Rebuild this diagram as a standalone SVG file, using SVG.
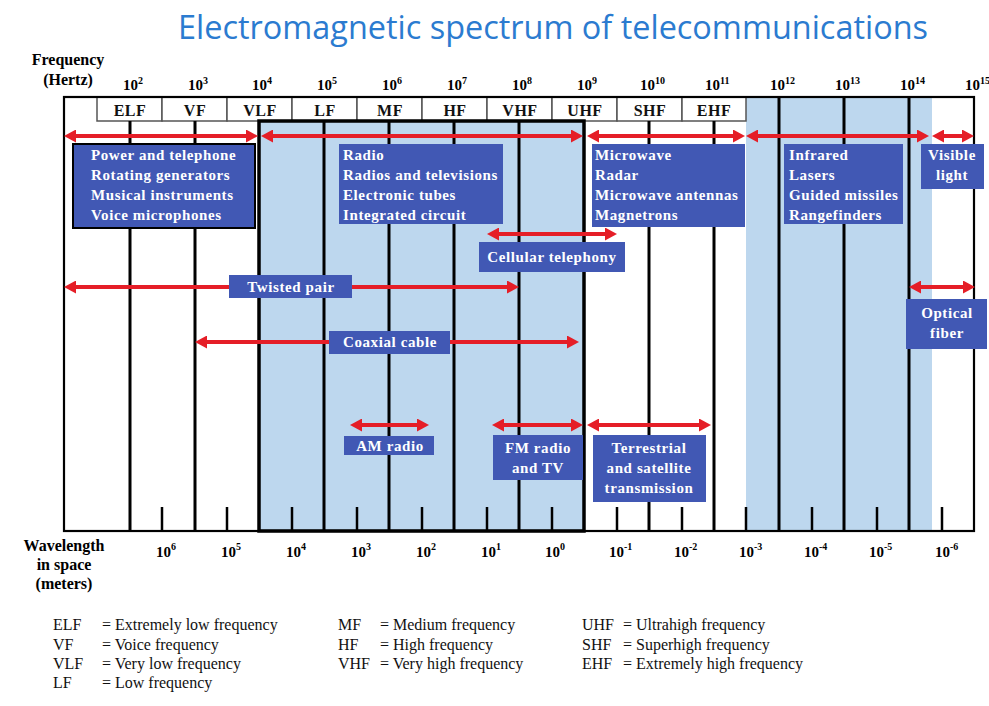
<svg xmlns="http://www.w3.org/2000/svg" width="989" height="706" viewBox="0 0 989 706">
<defs>
<marker id="ah" viewBox="0 0 12 13" refX="4" refY="6.5" markerWidth="12" markerHeight="13" markerUnits="userSpaceOnUse" orient="auto-start-reverse">
<path d="M0,0 L12,6.5 L0,13 z" fill="#E51E27"/>
</marker>
<style>
.title{font-family:"Open Sans","Liberation Sans",sans-serif;font-size:33px;fill:#2B7BD0}
.hd{font-family:"Liberation Serif",serif;font-weight:bold;font-size:16px;fill:#000}
.num{font-family:"Liberation Serif",serif;font-weight:bold;font-size:15px;fill:#000}
.band{font-family:"Liberation Serif",serif;font-weight:bold;font-size:16px;fill:#111;text-anchor:middle;letter-spacing:0.5px}
.bbox{fill:#fff;stroke:#555;stroke-width:1.5}
.vl{stroke:#000;stroke-width:3}
.tk{stroke:#000;stroke-width:2.5}
.arr{stroke:#E51E27;stroke-width:4;fill:none;marker-start:url(#ah);marker-end:url(#ah)}
.lb{fill:#4158B4}
.lt{font-family:"Liberation Serif",serif;font-weight:bold;font-size:15px;fill:#fff;letter-spacing:0.6px}
.ltc{font-family:"Liberation Serif",serif;font-weight:bold;font-size:15px;fill:#fff;letter-spacing:0.6px;text-anchor:middle}
.lg{font-family:"Liberation Serif",serif;font-size:16px;fill:#111}
</style>
</defs>
<rect width="989" height="706" fill="#fff"/>
<text class="title" x="178" y="39" textLength="750" lengthAdjust="spacingAndGlyphs">Electromagnetic spectrum of telecommunications</text>

<g id="axis-labels">
<text class="hd" x="68" y="65" text-anchor="middle">Frequency</text>
<text class="hd" x="68" y="85" text-anchor="middle">(Hertz)</text>
<text class="hd" x="64" y="551" text-anchor="middle">Wavelength</text>
<text class="hd" x="64" y="570" text-anchor="middle">in space</text>
<text class="hd" x="64" y="589" text-anchor="middle">(meters)</text>
</g>

<g id="frequency-scale">
<text class="num" x="123" y="90">10<tspan font-size="10" dy="-6">2</tspan></text>
<text class="num" x="188" y="90">10<tspan font-size="10" dy="-6">3</tspan></text>
<text class="num" x="252" y="90">10<tspan font-size="10" dy="-6">4</tspan></text>
<text class="num" x="317" y="90">10<tspan font-size="10" dy="-6">5</tspan></text>
<text class="num" x="382" y="90">10<tspan font-size="10" dy="-6">6</tspan></text>
<text class="num" x="447" y="90">10<tspan font-size="10" dy="-6">7</tspan></text>
<text class="num" x="512" y="90">10<tspan font-size="10" dy="-6">8</tspan></text>
<text class="num" x="577" y="90">10<tspan font-size="10" dy="-6">9</tspan></text>
<text class="num" x="640" y="90">10<tspan font-size="10" dy="-6">10</tspan></text>
<text class="num" x="705" y="90">10<tspan font-size="10" dy="-6">11</tspan></text>
<text class="num" x="770" y="90">10<tspan font-size="10" dy="-6">12</tspan></text>
<text class="num" x="835" y="90">10<tspan font-size="10" dy="-6">13</tspan></text>
<text class="num" x="900" y="90">10<tspan font-size="10" dy="-6">14</tspan></text>
<text class="num" x="965" y="90">10<tspan font-size="10" dy="-6">15</tspan></text>
</g>

<g id="shading">
<rect x="259" y="121" width="325" height="410" fill="#BDD7EE"/>
<rect x="746" y="97" width="186" height="434" fill="#BDD7EE"/>
</g>

<g id="bands">
<rect class="bbox" x="97" y="97" width="65" height="24"/>
<rect class="bbox" x="162" y="97" width="65" height="24"/>
<rect class="bbox" x="227" y="97" width="65" height="24"/>
<rect class="bbox" x="292" y="97" width="65" height="24"/>
<rect class="bbox" x="357" y="97" width="65" height="24"/>
<rect class="bbox" x="422" y="97" width="65" height="24"/>
<rect class="bbox" x="487" y="97" width="65" height="24"/>
<rect class="bbox" x="552" y="97" width="65" height="24"/>
<rect class="bbox" x="617" y="97" width="65" height="24"/>
<rect class="bbox" x="682" y="97" width="64" height="24"/>
<text class="band" x="130" y="116">ELF</text>
<text class="band" x="195" y="116">VF</text>
<text class="band" x="260" y="116">VLF</text>
<text class="band" x="325" y="116">LF</text>
<text class="band" x="390" y="116">MF</text>
<text class="band" x="455" y="116">HF</text>
<text class="band" x="520" y="116">VHF</text>
<text class="band" x="585" y="116">UHF</text>
<text class="band" x="650" y="116">SHF</text>
<text class="band" x="714" y="116">EHF</text>
</g>

<g id="grid">
<line class="vl" x1="130" y1="121" x2="130" y2="531"/>
<line class="vl" x1="195" y1="121" x2="195" y2="531"/>
<line class="vl" x1="324" y1="121" x2="324" y2="531"/>
<line class="vl" x1="389" y1="121" x2="389" y2="531"/>
<line class="vl" x1="454" y1="121" x2="454" y2="531"/>
<line class="vl" x1="519" y1="121" x2="519" y2="531"/>
<line class="vl" x1="649" y1="121" x2="649" y2="531"/>
<line class="vl" x1="714" y1="121" x2="714" y2="531"/>
<line class="vl" x1="779" y1="97" x2="779" y2="531"/>
<line class="vl" x1="844" y1="97" x2="844" y2="531"/>
<line class="vl" x1="909" y1="97" x2="909" y2="531"/>
<line class="tk" x1="162" y1="507" x2="162" y2="531"/>
<line class="tk" x1="227" y1="507" x2="227" y2="531"/>
<line class="tk" x1="292" y1="507" x2="292" y2="531"/>
<line class="tk" x1="357" y1="507" x2="357" y2="531"/>
<line class="tk" x1="422" y1="507" x2="422" y2="531"/>
<line class="tk" x1="487" y1="507" x2="487" y2="531"/>
<line class="tk" x1="552" y1="507" x2="552" y2="531"/>
<line class="tk" x1="617" y1="507" x2="617" y2="531"/>
<line class="tk" x1="682" y1="507" x2="682" y2="531"/>
<line class="tk" x1="746" y1="507" x2="746" y2="531"/>
<line class="tk" x1="812" y1="507" x2="812" y2="531"/>
<line class="tk" x1="877" y1="507" x2="877" y2="531"/>
<line class="tk" x1="942" y1="507" x2="942" y2="531"/>
<rect x="64" y="97" width="910" height="434" fill="none" stroke="#000" stroke-width="2.2"/>
<rect x="259" y="121" width="325" height="410" fill="none" stroke="#000" stroke-width="3.5"/>
</g>

<g id="wavelength-scale">
<text class="num" x="156" y="557">10<tspan font-size="10" dy="-7">6</tspan></text>
<text class="num" x="221" y="557">10<tspan font-size="10" dy="-7">5</tspan></text>
<text class="num" x="286" y="557">10<tspan font-size="10" dy="-7">4</tspan></text>
<text class="num" x="351" y="557">10<tspan font-size="10" dy="-7">3</tspan></text>
<text class="num" x="416" y="557">10<tspan font-size="10" dy="-7">2</tspan></text>
<text class="num" x="481" y="557">10<tspan font-size="10" dy="-7">1</tspan></text>
<text class="num" x="545" y="557">10<tspan font-size="10" dy="-7">0</tspan></text>
<text class="num" x="609" y="557">10<tspan font-size="10" dy="-7">-1</tspan></text>
<text class="num" x="674" y="557">10<tspan font-size="10" dy="-7">-2</tspan></text>
<text class="num" x="739" y="557">10<tspan font-size="10" dy="-7">-3</tspan></text>
<text class="num" x="804" y="557">10<tspan font-size="10" dy="-7">-4</tspan></text>
<text class="num" x="869" y="557">10<tspan font-size="10" dy="-7">-5</tspan></text>
<text class="num" x="935" y="557">10<tspan font-size="10" dy="-7">-6</tspan></text>
</g>

<g id="connectors">
<path class="arr" d="M72,136 H250"/>
<path class="arr" d="M269,136 H575"/>
<path class="arr" d="M595,136 H737"/>
<path class="arr" d="M754,136 H921"/>
<path class="arr" d="M940,136 H966"/>
<path class="arr" d="M495,234 H609"/>
<path class="arr" d="M72,287 H511"/>
<path class="arr" d="M203,342 H571"/>
<path class="arr" d="M917,287 H967"/>
<path class="arr" d="M358,425 H421"/>
<path class="arr" d="M500,425 H575"/>
<path class="arr" d="M595,425 H703"/>
</g>

<g id="node-power">
<rect x="73" y="144" width="182" height="84" fill="#4158B4" stroke="#000" stroke-width="2"/>
<text class="lt" x="91" y="160">Power and telephone</text>
<text class="lt" x="91" y="180">Rotating generators</text>
<text class="lt" x="91" y="200">Musical instruments</text>
<text class="lt" x="91" y="220">Voice microphones</text>
</g>
<g id="node-radio">
<rect class="lb" x="339" y="144" width="164" height="80"/>
<text class="lt" x="343" y="160">Radio</text>
<text class="lt" x="343" y="180">Radios and televisions</text>
<text class="lt" x="343" y="200">Electronic tubes</text>
<text class="lt" x="343" y="220">Integrated circuit</text>
</g>
<g id="node-microwave">
<rect class="lb" x="592" y="144" width="153" height="83"/>
<text class="lt" x="595" y="160">Microwave</text>
<text class="lt" x="595" y="180">Radar</text>
<text class="lt" x="595" y="200">Microwave antennas</text>
<text class="lt" x="595" y="220">Magnetrons</text>
</g>
<g id="node-infrared">
<rect class="lb" x="784" y="144" width="119" height="80"/>
<text class="lt" x="789" y="160">Infrared</text>
<text class="lt" x="789" y="180">Lasers</text>
<text class="lt" x="789" y="200">Guided missiles</text>
<text class="lt" x="789" y="220">Rangefinders</text>
</g>
<g id="node-visible">
<rect class="lb" x="921" y="144" width="63" height="45"/>
<text class="ltc" x="952" y="160">Visible</text>
<text class="ltc" x="952" y="180">light</text>
</g>
<g id="node-cellular">
<rect class="lb" x="479" y="242" width="146" height="30"/>
<text class="ltc" x="552" y="262">Cellular telephony</text>
</g>
<g id="node-twisted">
<rect class="lb" x="229" y="275" width="123" height="23"/>
<text class="ltc" x="291" y="292">Twisted pair</text>
</g>
<g id="node-coaxial">
<rect class="lb" x="329" y="331" width="121" height="23"/>
<text class="ltc" x="390" y="347">Coaxial cable</text>
</g>
<g id="node-optical">
<rect class="lb" x="906" y="299" width="81" height="50"/>
<text class="ltc" x="947" y="318">Optical</text>
<text class="ltc" x="947" y="338">fiber</text>
</g>
<g id="node-am">
<rect class="lb" x="344" y="436" width="90" height="19"/>
<text class="ltc" x="390" y="451">AM radio</text>
</g>
<g id="node-fm">
<rect class="lb" x="493" y="435" width="90" height="45"/>
<text class="ltc" x="538" y="453">FM radio</text>
<text class="ltc" x="538" y="473">and TV</text>
</g>
<g id="node-terrestrial">
<rect class="lb" x="593" y="435" width="113" height="67"/>
<text class="ltc" x="649" y="453">Terrestrial</text>
<text class="ltc" x="649" y="473">and satellite</text>
<text class="ltc" x="649" y="493">transmission</text>
</g>

<g id="legend">
<text class="lg" x="53" y="630">ELF</text><text class="lg" x="102" y="630">= Extremely low frequency</text>
<text class="lg" x="53" y="649.5">VF</text><text class="lg" x="102" y="649.5">= Voice frequency</text>
<text class="lg" x="53" y="669">VLF</text><text class="lg" x="102" y="669">= Very low frequency</text>
<text class="lg" x="53" y="688">LF</text><text class="lg" x="102" y="688">= Low frequency</text>
<text class="lg" x="338" y="630">MF</text><text class="lg" x="380" y="630">= Medium frequency</text>
<text class="lg" x="338" y="649.5">HF</text><text class="lg" x="380" y="649.5">= High frequency</text>
<text class="lg" x="338" y="669">VHF</text><text class="lg" x="380" y="669">= Very high frequency</text>
<text class="lg" x="582" y="630">UHF</text><text class="lg" x="623" y="630">= Ultrahigh frequency</text>
<text class="lg" x="582" y="649.5">SHF</text><text class="lg" x="623" y="649.5">= Superhigh frequency</text>
<text class="lg" x="582" y="669">EHF</text><text class="lg" x="623" y="669">= Extremely high frequency</text>
</g>
</svg>
